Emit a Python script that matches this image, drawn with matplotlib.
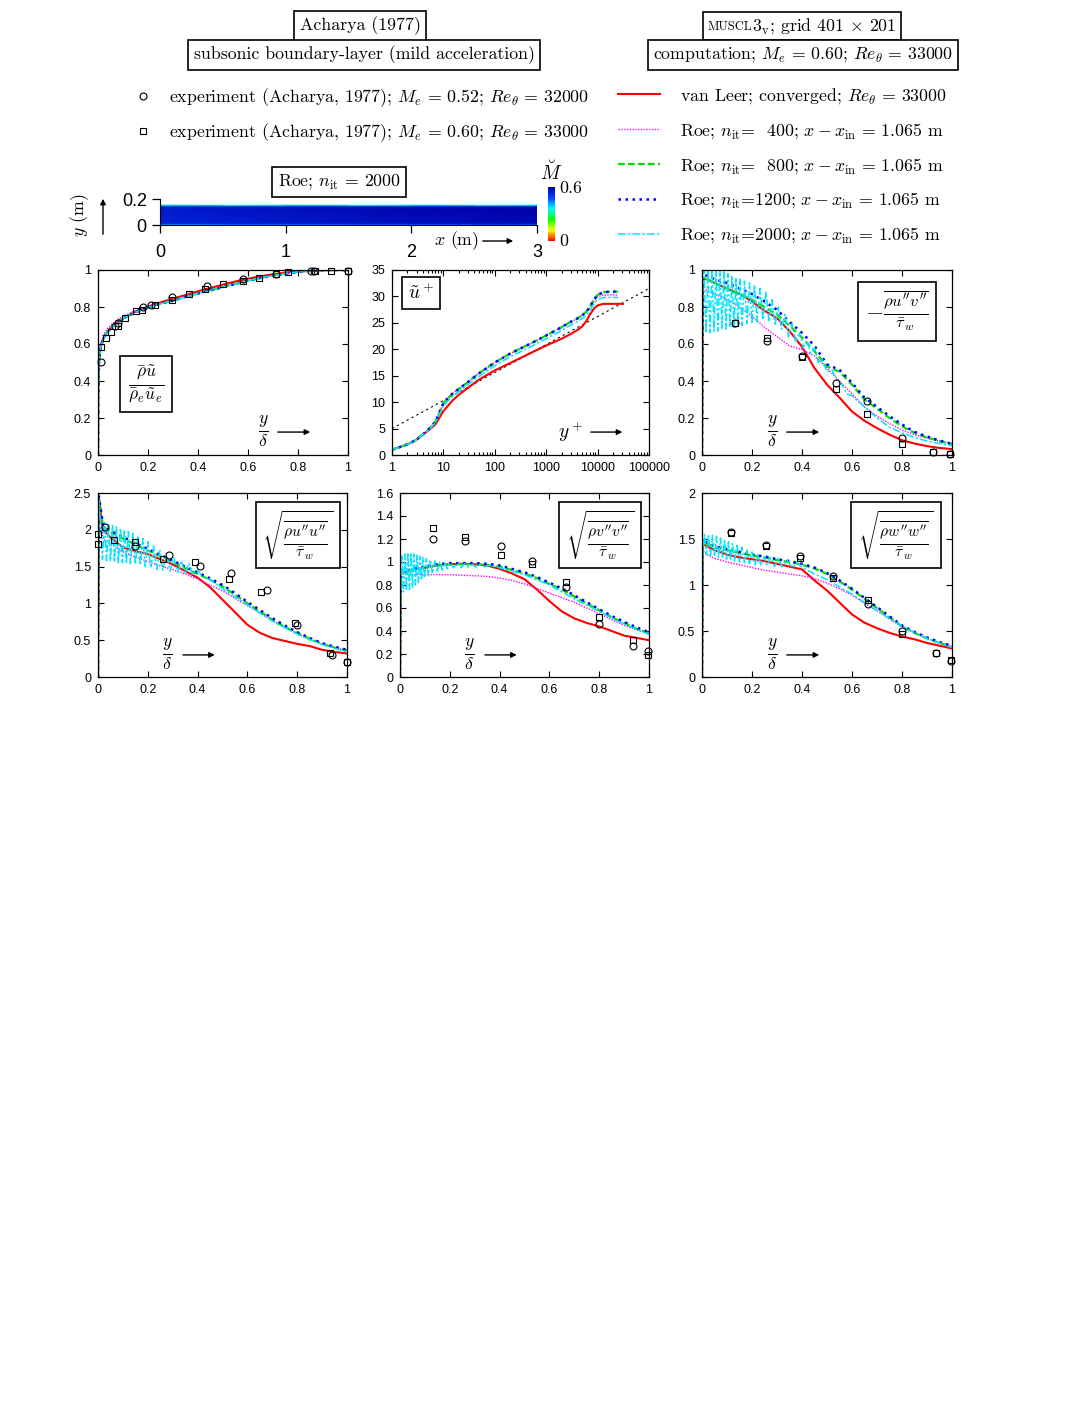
import numpy as np
import matplotlib
matplotlib.use('Agg')
import matplotlib.pyplot as plt
from matplotlib.lines import Line2D
from matplotlib.colors import LinearSegmentedColormap
from matplotlib.ticker import FuncFormatter, LogLocator, NullFormatter, MultipleLocator
from matplotlib.offsetbox import TextArea, HPacker, AnnotationBbox

plt.rcParams['font.family'] = 'Liberation Sans'
plt.rcParams['mathtext.fontset'] = 'cm'
SERIF = 'cmr10'

# ---------------- data ----------------
# wall-normal grid y/delta shared by panels 3-6
yd = [0, 0.003, 0.02, 0.05, 0.1, 0.15, 0.2, 0.25, 0.3, 0.35, 0.4, 0.45, 0.5,
      0.55, 0.6, 0.65, 0.7, 0.75, 0.8, 0.85, 0.9, 0.95, 1.0]

# panel 1: rho u / rho_e u_e
yd_u = [0, 0.001, 0.004, 0.01, 0.02, 0.035, 0.05, 0.075, 0.1, 0.15, 0.2, 0.25, 0.3,
        0.35, 0.4, 0.45, 0.5, 0.55, 0.6, 0.65, 0.7, 0.75, 0.8, 0.85, 0.9, 0.95, 1.0]
u_red = [0, 0.35, 0.5, 0.58, 0.625, 0.66, 0.685, 0.715, 0.738, 0.775, 0.802, 0.825, 0.845,
         0.865, 0.885, 0.903, 0.921, 0.938, 0.953, 0.966, 0.977, 0.986, 0.993, 0.997, 0.999, 1.0, 1.0]
u_roe = [0, 0.35, 0.5, 0.58, 0.625, 0.66, 0.685, 0.715, 0.738, 0.772, 0.798, 0.818, 0.835,
         0.855, 0.873, 0.89, 0.908, 0.925, 0.942, 0.957, 0.97, 0.981, 0.99, 0.996, 0.999, 1.0, 1.0]
u_mag = [0, 0.37, 0.52, 0.6, 0.645, 0.68, 0.70, 0.73, 0.75, 0.78, 0.805, 0.82, 0.835,
         0.855, 0.873, 0.89, 0.908, 0.925, 0.942, 0.957, 0.97, 0.981, 0.99, 0.996, 0.999, 1.0, 1.0]
u_exp_c_x = [0.013, 0.069, 0.08, 0.18, 0.21, 0.295, 0.437, 0.578, 0.71, 0.85, 0.865, 1.0]
u_exp_c_y = [0.505, 0.70, 0.715, 0.80, 0.812, 0.852, 0.912, 0.951, 0.978, 0.995, 0.995, 0.995]
u_exp_s_x = [0.013, 0.032, 0.052, 0.08, 0.109, 0.153, 0.175, 0.229, 0.295, 0.362, 0.428, 0.501,
             0.578, 0.644, 0.71, 0.761, 0.867, 0.93, 1.0]
u_exp_s_y = [0.582, 0.63, 0.663, 0.70, 0.739, 0.78, 0.785, 0.811, 0.838, 0.868, 0.897, 0.922,
             0.942, 0.959, 0.977, 0.991, 0.995, 0.995, 0.995]

# panel 2: u+ vs y+
yplus = [1, 2, 3, 5, 7, 10, 15, 20, 30, 50, 100, 200, 500, 1000, 2000, 3000, 4000, 5000,
         6000, 7000, 8500, 10000, 13000, 18000, 25000, 31000]
up_red = [1.0, 2.0, 2.9, 4.6, 5.8, 8.3, 10.3, 11.4, 12.7, 14.3, 16.0, 17.4, 19.3, 20.7, 22.0,
          22.9, 23.6, 24.3, 25.3, 26.5, 27.7, 28.3, 28.6, 28.6, 28.6, 28.6]
up_grn = [1.0, 2.0, 2.9, 4.7, 6.3, 9.8, 11.6, 12.5, 13.8, 15.5, 17.5, 19.2, 21.1, 22.6, 24.2,
          25.2, 25.8, 26.4, 27.1, 27.9, 29.4, 30.3, 30.8, 30.9, 30.9]
up_mag = [1.0, 2.0, 2.9, 4.7, 6.3, 9.8, 11.6, 12.5, 13.8, 15.5, 17.5, 19.2, 21.1, 22.6, 24.2,
          25.2, 25.8, 26.4, 27.1, 27.8, 29.1, 29.9, 30.3, 30.3, 30.3]
up_cyn = [1.0, 2.0, 2.9, 4.6, 6.1, 9.3, 11.1, 12.0, 13.3, 14.9, 16.9, 18.6, 20.5, 22.0, 23.6,
          24.6, 25.2, 25.8, 26.4, 27.2, 28.6, 29.4, 29.8, 29.8, 29.8]
loglaw_yp = [1, 100000]
loglaw_up = [5.0, 31.5]

# panel 3: -rho u''v'' / tau_w
uv_red = [0, 0.95, 0.95, 0.93, 0.90, 0.87, 0.83, 0.78, 0.74, 0.67, 0.585, 0.47, 0.38, 0.31,
          0.235, 0.185, 0.145, 0.11, 0.08, 0.062, 0.048, 0.038, 0.032]
uv_mag = [0, 0.90, 0.89, 0.87, 0.84, 0.80, 0.75, 0.69, 0.64, 0.59, 0.57, 0.535, 0.47, 0.40,
          0.33, 0.26, 0.21, 0.17, 0.135, 0.11, 0.09, 0.075, 0.063]
uv_grn = [0, 0.96, 0.95, 0.93, 0.90, 0.87, 0.84, 0.80, 0.76, 0.70, 0.635, 0.56, 0.48, 0.45,
          0.38, 0.30, 0.25, 0.20, 0.155, 0.12, 0.095, 0.075, 0.058]
uv_blu = [0, 0.97, 0.97, 0.95, 0.93, 0.90, 0.87, 0.83, 0.785, 0.72, 0.66, 0.59, 0.49, 0.46,
          0.39, 0.31, 0.26, 0.21, 0.165, 0.125, 0.10, 0.078, 0.06]
uv_cyn_x = [0.000, 0.008, 0.016, 0.024, 0.032, 0.040, 0.048, 0.056, 0.064, 0.072, 0.080, 0.088,
            0.096, 0.104, 0.112, 0.120, 0.128, 0.136, 0.144, 0.152, 0.160, 0.170, 0.180, 0.190,
            0.200, 0.210, 0.220, 0.232, 0.244, 0.256, 0.268, 0.280, 0.292, 0.304, 0.318, 0.332,
            0.346, 0.360, 0.375, 0.390, 0.405, 0.420, 0.435, 0.450, 0.465, 0.480, 0.500, 0.520,
            0.540, 0.560, 0.580, 0.600, 0.650, 0.700, 0.750, 0.800, 0.850, 0.900, 0.950, 1.000]
uv_cyn_y = [0.90, 1.00, 0.66, 1.00, 0.66, 1.00, 0.67, 1.00, 0.67, 1.00, 0.68, 0.99,
            0.68, 0.98, 0.69, 0.97, 0.69, 0.96, 0.70, 0.95, 0.70, 0.94, 0.71, 0.93,
            0.71, 0.92, 0.72, 0.90, 0.73, 0.88, 0.72, 0.84, 0.70, 0.80, 0.68, 0.76,
            0.64, 0.71, 0.61, 0.66, 0.58, 0.62, 0.55, 0.58, 0.50, 0.52, 0.45, 0.46,
            0.40, 0.38, 0.33, 0.32, 0.26, 0.20, 0.15, 0.12, 0.095, 0.075, 0.062, 0.05]
uv_exp_x = [0.13, 0.26, 0.40, 0.537, 0.66, 0.80, 0.923, 0.99]
uv_exp_c = [0.712, 0.616, 0.535, 0.387, 0.294, 0.09, 0.018, 0.004]
uv_exp_s = [0.712, 0.634, 0.532, 0.355, 0.22, 0.06, 0.018, 0.004]

# panel 4: sqrt(rho u''u'' / tau_w)
uu_red = [0, 2.45, 2.0, 1.9, 1.76, 1.71, 1.67, 1.60, 1.53, 1.44, 1.35, 1.22, 1.05, 0.88,
          0.71, 0.60, 0.53, 0.49, 0.45, 0.42, 0.37, 0.34, 0.32]
uu_mag = [0, 2.40, 1.88, 1.80, 1.70, 1.63, 1.57, 1.51, 1.46, 1.40, 1.33, 1.25, 1.17, 1.07,
          0.97, 0.87, 0.77, 0.67, 0.59, 0.51, 0.45, 0.40, 0.36]
uu_grn = [0, 2.45, 2.05, 1.97, 1.88, 1.80, 1.72, 1.64, 1.56, 1.48, 1.40, 1.32, 1.23, 1.12,
          1.00, 0.89, 0.78, 0.68, 0.60, 0.52, 0.45, 0.40, 0.36]
uu_blu = [0, 2.47, 2.07, 1.99, 1.90, 1.82, 1.74, 1.66, 1.58, 1.50, 1.42, 1.34, 1.25, 1.14,
          1.02, 0.91, 0.80, 0.70, 0.61, 0.53, 0.46, 0.41, 0.37]
uu_cyn_x = [0.000, 0.003, 0.010, 0.018, 0.026, 0.034, 0.042, 0.050, 0.058, 0.066, 0.074, 0.082,
            0.090, 0.098, 0.106, 0.114, 0.122, 0.130, 0.140, 0.150, 0.160, 0.170, 0.180, 0.190,
            0.200, 0.212, 0.224, 0.236, 0.248, 0.260, 0.275, 0.290, 0.305, 0.320, 0.335, 0.350,
            0.365, 0.380, 0.400, 0.420, 0.450, 0.500, 0.600, 0.700, 0.800, 0.900, 1.000]
uu_cyn_y = [0.00, 2.40, 2.10, 1.60, 2.10, 1.58, 2.08, 1.57, 2.06, 1.56, 2.04, 1.55,
            2.02, 1.55, 2.00, 1.54, 1.98, 1.54, 1.95, 1.53, 1.92, 1.52, 1.88, 1.50,
            1.84, 1.48, 1.78, 1.46, 1.72, 1.45, 1.66, 1.44, 1.62, 1.42, 1.58, 1.40,
            1.55, 1.38, 1.45, 1.36, 1.32, 1.20, 0.98, 0.76, 0.58, 0.44, 0.34]
uu_exp_c_x = [0.028, 0.15, 0.287, 0.41, 0.535, 0.68, 0.80, 0.94, 1.0]
uu_exp_c_y = [2.04, 1.78, 1.66, 1.51, 1.41, 1.18, 0.70, 0.30, 0.21]
uu_exp_s_x = [0.0, 0.0, 0.066, 0.15, 0.26, 0.39, 0.525, 0.653, 0.79, 0.93, 1.0]
uu_exp_s_y = [1.94, 1.81, 1.86, 1.83, 1.61, 1.56, 1.33, 1.155, 0.73, 0.32, 0.21]

# panel 5: sqrt(rho v''v'' / tau_w)
vv_red = [0, 0.90, 0.91, 0.93, 0.95, 0.97, 0.98, 0.985, 0.98, 0.97, 0.94, 0.90, 0.85, 0.76,
          0.66, 0.57, 0.51, 0.47, 0.44, 0.40, 0.36, 0.34, 0.32]
vv_mag = [0, 0.90, 0.895, 0.89, 0.89, 0.89, 0.89, 0.885, 0.88, 0.875, 0.86, 0.84, 0.81, 0.77,
          0.73, 0.69, 0.65, 0.60, 0.55, 0.50, 0.45, 0.41, 0.38]
vv_grn = [0, 0.90, 0.91, 0.93, 0.95, 0.97, 0.98, 0.98, 0.98, 0.975, 0.96, 0.93, 0.90, 0.86,
          0.81, 0.76, 0.70, 0.64, 0.58, 0.52, 0.47, 0.42, 0.38]
vv_blu = [0, 0.91, 0.92, 0.94, 0.96, 0.98, 0.99, 0.99, 0.99, 0.985, 0.97, 0.94, 0.91, 0.87,
          0.82, 0.77, 0.71, 0.65, 0.59, 0.53, 0.48, 0.43, 0.39]
vv_cyn_x = [0.000, 0.003, 0.008, 0.014, 0.020, 0.026, 0.032, 0.038, 0.044, 0.050, 0.056, 0.062,
            0.068, 0.074, 0.080, 0.086, 0.092, 0.098, 0.106, 0.114, 0.122, 0.130, 0.140, 0.150,
            0.160, 0.170, 0.180, 0.190, 0.200, 0.215, 0.230, 0.245, 0.260, 0.275, 0.290, 0.305,
            0.320, 0.340, 0.360, 0.400, 0.500, 0.600, 0.700, 0.800, 0.900, 1.000]
vv_cyn_y = [0.00, 0.75, 1.05, 0.74, 1.07, 0.75, 1.08, 0.76, 1.08, 0.78, 1.07, 0.80,
            1.06, 0.82, 1.05, 0.84, 1.04, 0.86, 1.03, 0.88, 1.02, 0.90, 1.01, 0.92,
            1.00, 0.93, 0.995, 0.94, 0.99, 0.95, 0.99, 0.95, 0.985, 0.955, 0.98, 0.955,
            0.975, 0.96, 0.97, 0.95, 0.89, 0.80, 0.68, 0.57, 0.46, 0.37]
vv_exp_x = [0.133, 0.261, 0.404, 0.529, 0.665, 0.80, 0.936, 0.996]
vv_exp_c = [1.20, 1.18, 1.14, 1.01, 0.78, 0.46, 0.27, 0.23]
vv_exp_s = [1.296, 1.22, 1.06, 0.98, 0.83, 0.52, 0.32, 0.19]

# panel 6: sqrt(rho w''w'' / tau_w)
ww_red = [0, 1.45, 1.42, 1.38, 1.33, 1.30, 1.28, 1.26, 1.23, 1.20, 1.17, 1.05, 0.94, 0.81,
          0.68, 0.59, 0.53, 0.48, 0.44, 0.41, 0.37, 0.34, 0.31]
ww_mag = [0, 1.38, 1.33, 1.29, 1.25, 1.22, 1.19, 1.16, 1.14, 1.12, 1.10, 1.07, 1.02, 0.96,
          0.89, 0.80, 0.72, 0.63, 0.55, 0.48, 0.42, 0.37, 0.33]
ww_grn = [0, 1.48, 1.45, 1.41, 1.38, 1.35, 1.32, 1.30, 1.27, 1.25, 1.22, 1.18, 1.12, 1.04,
          0.95, 0.85, 0.75, 0.65, 0.55, 0.48, 0.42, 0.37, 0.33]
ww_blu = [0, 1.49, 1.46, 1.42, 1.39, 1.36, 1.33, 1.31, 1.28, 1.26, 1.23, 1.19, 1.13, 1.05,
          0.96, 0.86, 0.76, 0.66, 0.56, 0.49, 0.43, 0.38, 0.34]
ww_cyn_x = [0.000, 0.003, 0.010, 0.018, 0.026, 0.034, 0.042, 0.050, 0.058, 0.066, 0.074, 0.082,
            0.090, 0.098, 0.106, 0.114, 0.122, 0.130, 0.140, 0.150, 0.160, 0.170, 0.180, 0.190,
            0.200, 0.212, 0.224, 0.236, 0.248, 0.260, 0.275, 0.290, 0.305, 0.320, 0.340, 0.360,
            0.380, 0.400, 0.450, 0.500, 0.600, 0.700, 0.800, 0.900, 1.000]
ww_cyn_y = [0.00, 1.35, 1.55, 1.33, 1.55, 1.32, 1.54, 1.31, 1.53, 1.30, 1.51, 1.29,
            1.49, 1.28, 1.47, 1.27, 1.45, 1.26, 1.43, 1.25, 1.41, 1.24, 1.38, 1.23,
            1.36, 1.22, 1.33, 1.21, 1.31, 1.21, 1.30, 1.20, 1.29, 1.20, 1.27, 1.19,
            1.24, 1.19, 1.12, 1.06, 0.90, 0.72, 0.55, 0.42, 0.32]
ww_exp_x = [0.115, 0.255, 0.39, 0.525, 0.665, 0.80, 0.935, 0.995]
ww_exp_c = [1.58, 1.44, 1.31, 1.10, 0.79, 0.50, 0.26, 0.17]
ww_exp_s = [1.57, 1.42, 1.29, 1.08, 0.84, 0.47, 0.26, 0.18]

# Mach field strip (Roe, n_it = 2000)
strip_x = [0, 1, 2, 3]
strip_me = [0.55, 0.57, 0.59, 0.60]
strip_y = [0, 0.002, 0.006, 0.012, 0.02, 0.14, 0.146, 0.152]
strip_frac = [0.0, 0.5, 0.8, 0.92, 0.97, 1.0, 0.85, 0.6]

legend_exp = ['experiment (Acharya, 1977); $M_e\\,=\\,0.52$; $Re_\\theta\\,=\\,32000$',
              'experiment (Acharya, 1977); $M_e\\,=\\,0.60$; $Re_\\theta\\,=\\,33000$']
legend_num = ['van Leer; converged; $Re_\\theta\\,=\\,33000$',
              'Roe; $n_\\mathrm{it}$=  400; $x - x_\\mathrm{in}\\,=\\,1.065$ m',
              'Roe; $n_\\mathrm{it}$=  800; $x - x_\\mathrm{in}\\,=\\,1.065$ m',
              'Roe; $n_\\mathrm{it}$=1200; $x - x_\\mathrm{in}\\,=\\,1.065$ m',
              'Roe; $n_\\mathrm{it}$=2000; $x - x_\\mathrm{in}\\,=\\,1.065$ m']

# ---------------- styles ----------------
STY = {
    'red': dict(color='red', lw=1.5, ls='-'),
    'mag': dict(color='magenta', lw=1.0, ls=(0, (1, 1))),
    'grn': dict(color='#00e000', lw=1.6, ls=(0, (3, 1.5))),
    'blu': dict(color='blue', lw=1.8, ls=(0, (1, 1.8))),
    'cyn': dict(color='#00e5ff', lw=1.1, ls=(0, (5, 1.5, 1.5, 1.5))),
}
CIRC = dict(marker='o', ls='none', mfc='none', mec='k', ms=5, mew=0.8)
SQR = dict(marker='s', ls='none', mfc='none', mec='k', ms=5, mew=0.8)
BOX = dict(boxstyle='square,pad=0.3', fc='white', ec='black', lw=1.2)
FS = 12.8

W, H = 1092, 1413
fig = plt.figure(figsize=(W / 100, H / 100), dpi=100)


def fx(x):
    return x / W


def fy(y):
    return 1 - y / H


def px_axes(x0, y0, x1, y1):
    return fig.add_axes([x0 / W, 1 - y1 / H, (x1 - x0) / W, (y1 - y0) / H])


def style_panel(ax, ymax, ystep):
    ax.set_xlim(0, 1)
    ax.set_ylim(0, ymax)
    ax.xaxis.set_major_locator(MultipleLocator(0.2))
    ax.yaxis.set_major_locator(MultipleLocator(ystep))
    fmt = FuncFormatter(lambda v, p: '%g' % round(v, 6))
    ax.xaxis.set_major_formatter(fmt)
    ax.yaxis.set_major_formatter(fmt)
    ax.tick_params(direction='in', top=True, right=True, length=4, width=0.8,
                   labelsize=9, pad=5)
    for s in ax.spines.values():
        s.set_linewidth(0.9)


def ydelta(ax, xt, yt, xa0, xa1):
    ax.text(xt, yt, r'$\frac{y}{\delta}$', transform=ax.transAxes, ha='center',
            va='center', fontsize=18)
    ax.annotate('', xy=(xa1, yt), xytext=(xa0, yt), xycoords='axes fraction',
                arrowprops=dict(arrowstyle='-|>', color='k', lw=1, mutation_scale=8))


def profiles(ax, red, mag, grn, blu, cyn_x, cyn_y):
    ax.plot(yd, red, **STY['red'])
    ax.plot(yd, mag, **STY['mag'])
    ax.plot(yd, grn, **STY['grn'])
    ax.plot(yd, blu, **STY['blu'])
    ax.plot(cyn_x, cyn_y, **STY['cyn'])


# ---------------- header ----------------
fig.text(fx(360), fy(26), 'Acharya (1977)', family=SERIF, size=FS, ha='center',
         va='center', bbox=BOX)
fig.text(fx(364), fy(55), 'subsonic boundary-layer (mild acceleration)', family=SERIF,
         size=FS, ha='center', va='center', bbox=BOX)
ta1 = TextArea('MUSCL', textprops=dict(family=SERIF, size=9))
ta2 = TextArea('3$_\\mathrm{v}$; grid 401 $\\times$ 201', textprops=dict(family=SERIF, size=FS))
pack = HPacker(children=[ta1, ta2], align='baseline', pad=0, sep=0)
ab = AnnotationBbox(pack, (fx(802), fy(26)), xycoords='figure fraction', frameon=True,
                    pad=0.3, bboxprops=dict(boxstyle='square', fc='white', ec='black', lw=1.2))
fig.add_artist(ab)
fig.text(fx(803), fy(55), 'computation; $M_e\\,=\\,0.60$; $Re_\\theta\\,=\\,33000$', family=SERIF,
         size=FS, ha='center', va='center', bbox=BOX)

# ---------------- legends ----------------
h_exp = [Line2D([], [], **CIRC), Line2D([], [], **SQR)]
fig.legend(h_exp, legend_exp, loc='upper left', bbox_to_anchor=(fx(134), fy(86)),
           frameon=False, borderpad=0, borderaxespad=0, handlelength=1.0,
           handletextpad=0.95, labelspacing=0.73, prop=dict(family=SERIF, size=FS))
h_num = [Line2D([], [], **STY[k]) for k in ['red', 'mag', 'grn', 'blu', 'cyn']]
fig.legend(h_num, legend_num, loc='upper left', bbox_to_anchor=(fx(618), fy(86)),
           frameon=False, borderpad=0, borderaxespad=0, handlelength=2.36,
           handletextpad=1.15, labelspacing=0.84, prop=dict(family=SERIF, size=FS))

# ---------------- Mach strip ----------------
mach_cmap = LinearSegmentedColormap.from_list(
    'mach', ['#ff0000', '#ffff00', '#00ff00', '#00ffff', '#0040ff', '#0000a8'])
axs = px_axes(160, 199, 537, 225)
field = np.outer(strip_frac, strip_me)
mesh = axs.pcolormesh(strip_x, strip_y, field, cmap=mach_cmap, vmin=0, vmax=0.6,
                      shading='gouraud')
axs.set_xlim(0, 3)
axs.set_ylim(0, 0.2)
axs.set_xticks([0, 1, 2, 3])
axs.set_yticks([0, 0.2])
axs.set_yticklabels(['0', '0.2'])
axs.spines['top'].set_visible(False)
axs.spines['right'].set_visible(False)
axs.tick_params(direction='out', length=6, width=0.9, labelsize=13)
axs.tick_params(axis='x', pad=8)
fig.text(fx(339), fy(182), 'Roe; $n_\\mathrm{it}\\,=\\,2000$', family=SERIF, size=FS,
         ha='center', va='center', bbox=BOX)
fig.text(fx(80), fy(215), '$y$ (m)', family=SERIF, size=FS, rotation=90,
         ha='center', va='center')
axs.annotate('', xy=(fx(103), fy(196)), xytext=(fx(103), fy(237)),
             xycoords='figure fraction', textcoords='figure fraction', annotation_clip=False,
             arrowprops=dict(arrowstyle='-|>', color='k', lw=1, mutation_scale=8))
fig.text(fx(457), fy(241), '$x$ (m)', family=SERIF, size=FS, ha='center', va='center')
axs.annotate('', xy=(fx(516), fy(241)), xytext=(fx(480), fy(241)),
             xycoords='figure fraction', textcoords='figure fraction', annotation_clip=False,
             arrowprops=dict(arrowstyle='-|>', color='k', lw=1, mutation_scale=8))
cax = px_axes(548, 187, 555, 241)
cb = fig.colorbar(mesh, cax=cax, ticks=[])
cb.outline.set_visible(False)
fig.text(fx(559), fy(188), '0.6', family=SERIF, size=FS, ha='left', va='center')
fig.text(fx(559), fy(241), '0', family=SERIF, size=FS, ha='left', va='center')
fig.text(fx(551), fy(172), r'$\breve{M}$', size=14, ha='center', va='center')

# ---------------- panel 1 ----------------
ax1 = px_axes(98, 270, 348, 455)
style_panel(ax1, 1.0, 0.2)
ax1.plot(yd_u, u_red, **STY['red'])
ax1.plot(yd_u, u_mag, **STY['mag'])
ax1.plot(yd_u, u_roe, **STY['grn'])
ax1.plot(yd_u, u_roe, **STY['blu'])
ax1.plot(yd_u, u_roe, **STY['cyn'])
ax1.plot(u_exp_c_x, u_exp_c_y, **CIRC, clip_on=False)
ax1.plot(u_exp_s_x, u_exp_s_y, **SQR, clip_on=False)
ax1.text(0.192, 0.384, r'$\frac{\bar\rho\tilde u}{\bar\rho_e\tilde u_e}$', transform=ax1.transAxes,
         ha='center', va='center', fontsize=18, bbox=BOX)
ydelta(ax1, 0.66, 0.124, 0.708, 0.86)

# ---------------- panel 2 ----------------
ax2 = px_axes(392, 270, 649, 455)
ax2.set_xscale('log')
ax2.set_xlim(1, 100000)
ax2.set_ylim(0, 35)
ax2.yaxis.set_major_locator(MultipleLocator(5))
ax2.xaxis.set_major_locator(LogLocator(base=10, numticks=10))
ax2.xaxis.set_minor_locator(LogLocator(base=10, subs=np.arange(2, 10), numticks=20))
ax2.xaxis.set_major_formatter(FuncFormatter(lambda v, p: '%d' % round(v)))
ax2.xaxis.set_minor_formatter(NullFormatter())
ax2.tick_params(which='both', direction='in', top=True, right=True, width=0.8,
                labelsize=9, pad=5)
ax2.tick_params(which='major', length=4)
ax2.tick_params(which='minor', length=2.5)
for s in ax2.spines.values():
    s.set_linewidth(0.9)
ax2.plot(loglaw_yp, loglaw_up, color='k', lw=0.8, ls=(0, (2, 3)))
ax2.plot(yplus, up_red, **STY['red'])
ax2.plot(yplus[:25], up_mag, **STY['mag'])
ax2.plot(yplus[:25], up_grn, **STY['grn'])
ax2.plot(yplus[:25], up_grn, **STY['blu'])
ax2.plot(yplus[:25], up_cyn, **STY['cyn'])
ax2.text(0.113, 0.876, r'$\tilde u^+$', transform=ax2.transAxes, ha='center', va='center',
         fontsize=14, bbox=BOX)
ax2.text(0.693, 0.124, r'$y^+$', transform=ax2.transAxes, ha='center', va='center', fontsize=14)
ax2.annotate('', xy=(0.907, 0.124), xytext=(0.763, 0.124), xycoords='axes fraction',
             arrowprops=dict(arrowstyle='-|>', color='k', lw=1, mutation_scale=8))

# ---------------- panel 3 ----------------
ax3 = px_axes(702, 270, 952, 455)
style_panel(ax3, 1.0, 0.2)
profiles(ax3, uv_red, uv_mag, uv_grn, uv_blu, uv_cyn_x, uv_cyn_y)
ax3.plot(uv_exp_x, uv_exp_c, **CIRC, clip_on=False)
ax3.plot(uv_exp_x, uv_exp_s, **SQR, clip_on=False)
ax3.text(0.78, 0.778, r"$-\frac{\overline{\rho u^{\prime\prime}v^{\prime\prime}}}{\bar\tau_w}$",
         transform=ax3.transAxes, ha='center', va='center', fontsize=17, bbox=BOX)
ydelta(ax3, 0.28, 0.124, 0.328, 0.48)

# ---------------- panel 4 ----------------
ax4 = px_axes(98, 493, 347, 677)
style_panel(ax4, 2.5, 0.5)
profiles(ax4, uu_red, uu_mag, uu_grn, uu_blu, uu_cyn_x, uu_cyn_y)
ax4.plot(uu_exp_c_x, uu_exp_c_y, **CIRC, clip_on=False)
ax4.plot(uu_exp_s_x, uu_exp_s_y, **SQR, clip_on=False)
ax4.text(0.803, 0.772, r"$\sqrt{\frac{\overline{\rho u^{\prime\prime}u^{\prime\prime}}}{\bar\tau_w}}$",
         transform=ax4.transAxes, ha='center', va='center', fontsize=16, bbox=BOX)
ydelta(ax4, 0.277, 0.12, 0.33, 0.48)

# ---------------- panel 5 ----------------
ax5 = px_axes(400, 493, 649, 677)
style_panel(ax5, 1.6, 0.2)
profiles(ax5, vv_red, vv_mag, vv_grn, vv_blu, vv_cyn_x, vv_cyn_y)
ax5.plot(vv_exp_x, vv_exp_c, **CIRC, clip_on=False)
ax5.plot(vv_exp_x, vv_exp_s, **SQR, clip_on=False)
ax5.text(0.803, 0.772, r"$\sqrt{\frac{\overline{\rho v^{\prime\prime}v^{\prime\prime}}}{\bar\tau_w}}$",
         transform=ax5.transAxes, ha='center', va='center', fontsize=16, bbox=BOX)
ydelta(ax5, 0.28, 0.12, 0.33, 0.48)

# ---------------- panel 6 ----------------
ax6 = px_axes(702, 493, 952, 677)
style_panel(ax6, 2.0, 0.5)
profiles(ax6, ww_red, ww_mag, ww_grn, ww_blu, ww_cyn_x, ww_cyn_y)
ax6.plot(ww_exp_x, ww_exp_c, **CIRC, clip_on=False)
ax6.plot(ww_exp_x, ww_exp_s, **SQR, clip_on=False)
ax6.text(0.776, 0.772, r"$\sqrt{\frac{\overline{\rho w^{\prime\prime}w^{\prime\prime}}}{\bar\tau_w}}$",
         transform=ax6.transAxes, ha='center', va='center', fontsize=16, bbox=BOX)
ydelta(ax6, 0.28, 0.12, 0.328, 0.48)

fig.savefig('out.png', dpi=100)
